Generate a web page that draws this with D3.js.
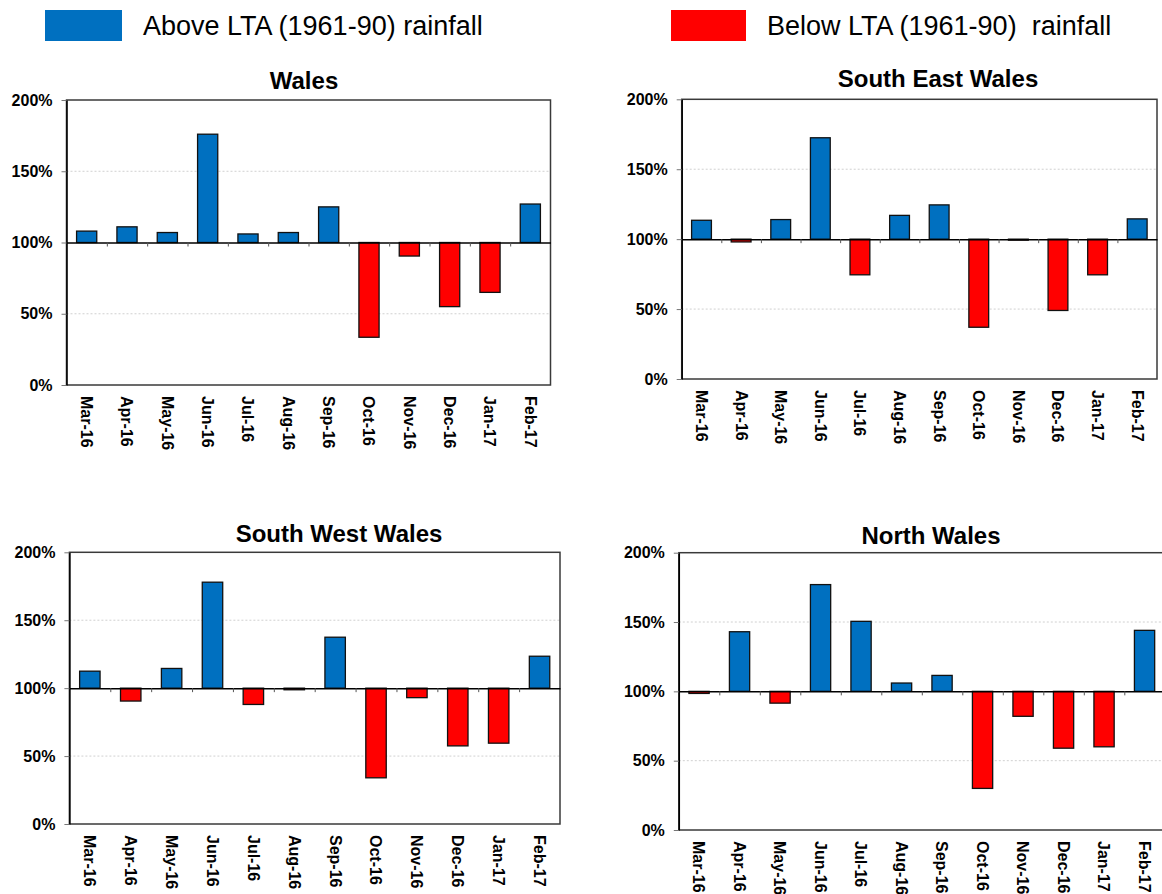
<!DOCTYPE html>
<html>
<head>
<meta charset="utf-8">
<script src="https://cdn.jsdelivr.net/npm/d3@7"></script>
<style>
  body { margin: 0; background: #fff; }
  svg { display: block; font-family: Arial, "Liberation Sans", sans-serif; }
</style>
</head>
<body>
<svg id="chart" width="1162" height="894"></svg>
<script>
// Monthly rainfall as a percentage of the 1961-90 long-term average
const months = ["Mar-16", "Apr-16", "May-16", "Jun-16", "Jul-16", "Aug-16",
                "Sep-16", "Oct-16", "Nov-16", "Dec-16", "Jan-17", "Feb-17"];

const walesValues     = [108, 111, 107, 176, 106, 107, 125, 33.5, 90.5, 55, 65, 127];
const southEastValues = [113.5, 98, 114, 172.5, 74.5, 117, 124.5, 37, 99.5, 49, 74.5, 114.5];
const southWestValues = [112.5, 90.5, 114.5, 178, 88, 98.8, 137.5, 34, 93, 57.5, 59.5, 123.5];
const northValues     = [98.5, 143, 91.5, 177, 150.5, 106, 111.5, 30, 82, 59, 60, 144];

const panelTitles = ["Wales", "South East Wales", "South West Wales", "North Wales"];
const yTickValues = [0, 50, 100, 150, 200];
const gridValues = [50, 150];
const ltaLevel = 100;
const legendLabels = ["Above LTA (1961-90) rainfall", "Below LTA (1961-90)  rainfall"];

const colourAbove = "#0070C0";
const colourBelow = "#FF0000";

// Placement of each small chart on the page
const panels = [
  { title: panelTitles[0], values: walesValues,     x0: 66.5,  x1: 550.5,  y0: 100,   y1: 385, tx: 304, ty: 89 },
  { title: panelTitles[1], values: southEastValues, x0: 681.7, x1: 1157,   y0: 99.3,  y1: 379, tx: 938, ty: 87 },
  { title: panelTitles[2], values: southWestValues, x0: 69.4,  x1: 560,    y0: 552.3, y1: 824, tx: 339, ty: 542 },
  { title: panelTitles[3], values: northValues,     x0: 678.8, x1: 1164.8, y0: 552.7, y1: 830, tx: 931, ty: 544 }
];

const svg = d3.select("#chart");

// Legend
const legend = svg.append("g");
const legendItems = [
  { label: legendLabels[0], colour: colourAbove, rx: 45,  rw: 77, tx: 143 },
  { label: legendLabels[1], colour: colourBelow, rx: 671, rw: 75, tx: 767 }
];
legendItems.forEach(item => {
  legend.append("rect")
    .attr("x", item.rx).attr("y", 10)
    .attr("width", item.rw).attr("height", 31)
    .attr("fill", item.colour);
  legend.append("text")
    .attr("x", item.tx).attr("y", 35)
    .attr("font-size", 27)
    .attr("fill", "#000")
    .style("white-space", "pre")
    .text(item.label);
});

panels.forEach(p => {
  const g = svg.append("g");

  const x = d3.scaleBand()
    .domain(months)
    .range([p.x0, p.x1])
    .paddingInner(0.5)
    .paddingOuter(0.25);

  const y = d3.scaleLinear().domain([0, 200]).range([p.y1, p.y0]);

  // index scale for the category boundary ticks on the 100% line
  const xi = d3.scaleLinear().domain([0, months.length]).range([p.x0, p.x1]);

  // light dotted gridlines
  g.selectAll(".grid")
    .data(gridValues)
    .join("line")
    .attr("x1", p.x0).attr("x2", p.x1)
    .attr("y1", d => y(d)).attr("y2", d => y(d))
    .attr("stroke", "#d0d0d0")
    .attr("stroke-width", 1)
    .attr("stroke-dasharray", "2,2");

  // plot frame
  g.append("rect")
    .attr("x", p.x0).attr("y", p.y0)
    .attr("width", p.x1 - p.x0).attr("height", p.y1 - p.y0)
    .attr("fill", "none")
    .attr("stroke", "#3a3a3a")
    .attr("stroke-width", 1.5);

  // bars drawn from the 100% line
  g.selectAll(".bar")
    .data(p.values.map((v, i) => ({ month: months[i], value: v })))
    .join("rect")
    .attr("x", d => x(d.month))
    .attr("width", x.bandwidth())
    .attr("y", d => y(Math.max(d.value, ltaLevel)))
    .attr("height", d => Math.max(1, Math.abs(y(d.value) - y(ltaLevel))))
    .attr("fill", d => d.value >= ltaLevel ? colourAbove : colourBelow)
    .attr("stroke", "#111")
    .attr("stroke-width", 1.3);

  // 100% category line with boundary ticks
  const midAxis = g.append("g")
    .attr("transform", `translate(0,${y(ltaLevel)})`)
    .call(d3.axisBottom(xi)
      .tickValues(d3.range(1, months.length))
      .tickSize(4)
      .tickSizeOuter(0)
      .tickFormat(""));
  midAxis.select(".domain").attr("stroke", "#000").attr("stroke-width", 1.5);
  midAxis.selectAll(".tick line").attr("stroke", "#555");

  // rotated month labels below the frame
  const bottomAxis = g.append("g")
    .attr("transform", `translate(0,${p.y1})`)
    .call(d3.axisBottom(x).tickSize(0));
  bottomAxis.select(".domain").remove();
  bottomAxis.selectAll(".tick text")
    .attr("x", 0).attr("y", 0)
    .attr("dy", "0.35em")
    .attr("transform", "translate(0,11) rotate(90)")
    .attr("text-anchor", "start")
    .attr("font-family", "Arial, 'Liberation Sans', sans-serif")
    .attr("font-size", 16)
    .attr("font-weight", "bold")
    .attr("fill", "#000");

  // percentage axis
  const yAxis = g.append("g")
    .attr("transform", `translate(${p.x0},0)`)
    .call(d3.axisLeft(y)
      .tickValues(yTickValues)
      .tickFormat(d => d + "%")
      .tickSize(5)
      .tickSizeOuter(0)
      .tickPadding(9));
  yAxis.select(".domain").attr("stroke", "#000").attr("stroke-width", 1.5);
  yAxis.selectAll(".tick line").attr("stroke", "#777");
  yAxis.selectAll(".tick text")
    .attr("font-family", "Arial, 'Liberation Sans', sans-serif")
    .attr("font-size", 16)
    .attr("font-weight", "bold")
    .attr("fill", "#000");

  // panel title
  g.append("text")
    .attr("x", p.tx).attr("y", p.ty)
    .attr("text-anchor", "middle")
    .attr("font-size", 24)
    .attr("font-weight", "bold")
    .attr("fill", "#000")
    .text(p.title);
});
</script>
</body>
</html>
